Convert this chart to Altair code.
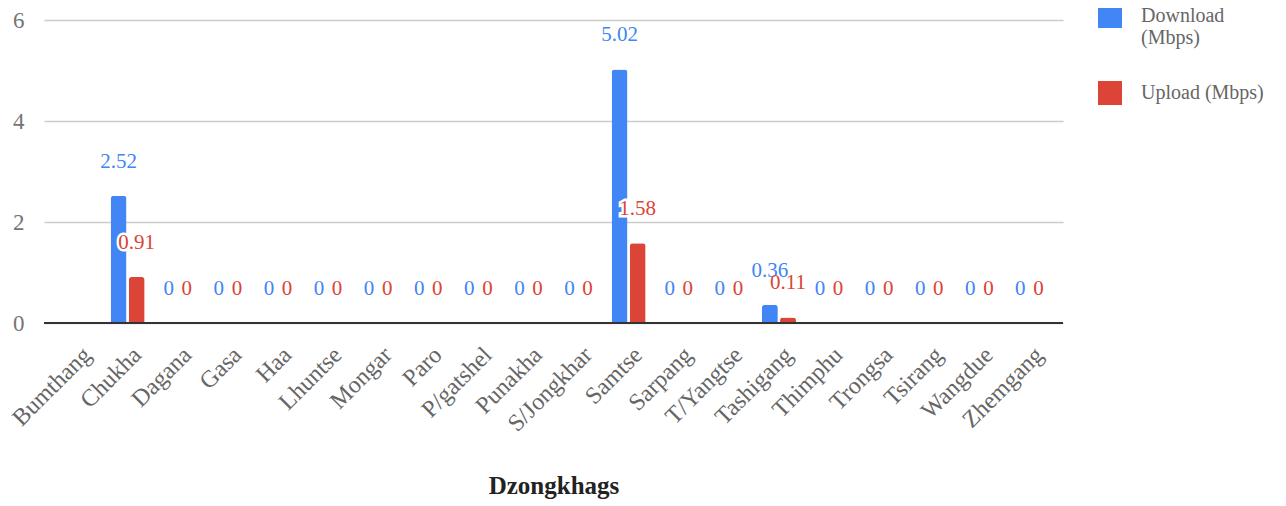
import altair as alt
import pandas as pd

categories = ["Bumthang", "Chukha", "Dagana", "Gasa", "Haa", "Lhuntse", "Mongar", "Paro",
              "P/gatshel", "Punakha", "S/Jongkhar", "Samtse", "Sarpang", "T/Yangtse",
              "Tashigang", "Thimphu", "Trongsa", "Tsirang", "Wangdue", "Zhemgang"]
download = [None, 2.52, 0, 0, 0, 0, 0, 0, 0, 0, 0, 5.02, 0, 0, 0.36, 0, 0, 0, 0, 0]
upload = [None, 0.91, 0, 0, 0, 0, 0, 0, 0, 0, 0, 1.58, 0, 0, 0.11, 0, 0, 0, 0, 0]
series = ["Download (Mbps)", "Upload (Mbps)"]
colors = ["#4285F4", "#DB4437"]

rows = []
for c, d, u in zip(categories, download, upload):
    for s, v in zip(series, [d, u]):
        rows.append({"Dzongkhag": c, "Series": s, "Value": v,
                     "Label": "" if v is None else f"{v:g}"})
df = pd.DataFrame(rows)

FONT = "Liberation Serif"

x = alt.X("Dzongkhag:N", sort=categories, title="Dzongkhags",
          scale=alt.Scale(paddingInner=0.32, paddingOuter=0.33),
          axis=alt.Axis(labelAngle=-45, labelAlign="right", labelBaseline="middle",
                        labelFont=FONT, labelFontSize=24, labelColor="#666666",
                        labelPadding=28, labelOffset=10, ticks=False, domain=False,
                        grid=False, labelLimit=300,
                        titleFont=FONT, titleFontSize=25, titleFontWeight="bold",
                        titleColor="#222222", titlePadding=38))
xo = alt.XOffset("Series:N", sort=series, scale=alt.Scale(paddingInner=0.12))
y = alt.Y("Value:Q", title=None,
          scale=alt.Scale(domain=[0, 6], nice=False),
          axis=alt.Axis(values=[0, 2, 4, 6], labelFont=FONT, labelFontSize=23,
                        labelColor="#757575", labelPadding=20, ticks=False,
                        domain=False, gridColor="#cccccc", gridWidth=1.5))
color = alt.Color("Series:N", sort=series,
                  scale=alt.Scale(domain=series, range=colors),
                  legend=alt.Legend(title=None, orient="none", legendX=1054, legendY=-16,
                                    symbolType="square", symbolSize=576,
                                    symbolStrokeWidth=0, labelFont=FONT, labelFontSize=20,
                                    labelColor="#666666", labelOffset=19, labelLimit=300,
                                    rowPadding=33,
                                    labelExpr="datum.label == 'Download (Mbps)' ? ['Download', '(Mbps)'] : datum.label"))

base = alt.Chart(df).encode(x=x, xOffset=xo)

bars = base.mark_bar(cornerRadiusTopLeft=3, cornerRadiusTopRight=3).encode(y=y, color=color)

halo = base.mark_text(font=FONT, fontSize=21, dy=-34, baseline="middle",
                      stroke="white", strokeWidth=5, fill="white").encode(
    y=y, text="Label:N")
labels = base.mark_text(font=FONT, fontSize=21, dy=-34, baseline="middle").encode(
    y=y, text="Label:N",
    color=alt.Color("Series:N", sort=series, scale=alt.Scale(domain=series, range=colors),
                    legend=None))

baseline = alt.Chart(df).mark_rule(color="#333333", strokeWidth=2).encode(y=alt.datum(0))

chart = alt.layer(bars, baseline, halo, labels).properties(
    width=1019, height=303,
    autosize=alt.AutoSizeParams(type="none"),
    padding={"left": 36, "top": 12, "right": 210, "bottom": 180},
).configure_view(stroke=None)

chart.save("out.html", embed_options={"renderer": "svg", "actions": False})
